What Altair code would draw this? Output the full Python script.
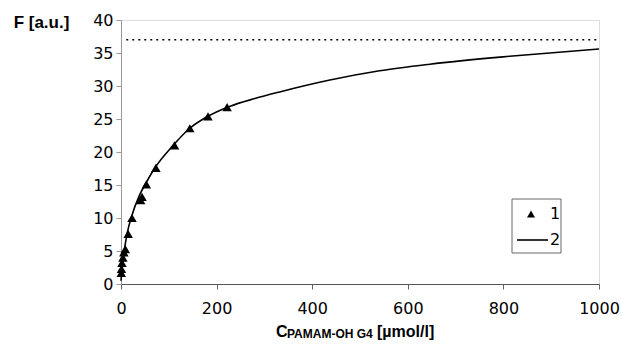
import altair as alt
import pandas as pd

# Measured fluorescence (series 1)
conc_meas = [0.5, 1, 2, 4, 6, 9, 15, 23, 41, 44, 53, 73, 112, 144, 182, 222]
f_meas = [1.7, 2.3, 3.2, 4.0, 4.8, 5.3, 7.6, 10.0, 12.7, 13.2, 15.1, 17.6, 21.0, 23.6, 25.4, 26.8]

# Fitted binding curve (series 2)
conc_fit = [0, 2, 6, 13, 22, 39, 53, 70, 109, 144, 179, 227, 280, 332, 437, 541, 646, 813, 1000]
f_fit = [0.5, 2.1, 4.6, 7.7, 10.2, 13.5, 15.4, 17.5, 21.0, 23.6, 25.3, 26.9, 28.1, 29.1, 30.9, 32.3, 33.3, 34.5, 35.6]

# Saturation level (dotted line)
f_max = 37
conc_max_range = [11, 1000]

legend_labels = ["1", "2"]
x_ticks = [0, 200, 400, 600, 800, 1000]
y_ticks = [0, 5, 10, 15, 20, 25, 30, 35, 40]

W, H = 478, 264
TICK_FONT = "DejaVu Sans"
TITLE_FONT = "Liberation Sans"

meas = pd.DataFrame({"c": conc_meas, "F": f_meas})
fit = pd.DataFrame({"c": conc_fit, "F": f_fit})
sat = pd.DataFrame({"c": conc_max_range, "F": [f_max, f_max]})

x_scale = alt.Scale(domain=[0, 1000], nice=False)
y_scale = alt.Scale(domain=[0, 40], nice=False)

x_axis = alt.Axis(
    values=x_ticks, grid=False, title=None, format="d",
    domainColor="#555", tickColor="#666", tickSize=5,
    labelFont=TICK_FONT, labelFontSize=16, labelColor="black", labelPadding=11,
    labelFlush=False, labelOverlap=False,
)
y_axis = alt.Axis(
    values=y_ticks, grid=False, format="d",
    title="F [a.u.]", titleAngle=0, titleFont=TITLE_FONT, titleFontSize=17,
    titleFontWeight="bold", titleColor="black", titleX=-80, titleY=2,
    titleAlign="center", titleBaseline="middle",
    domainColor="#999", tickColor="#999", tickSize=5,
    labelFont=TICK_FONT, labelFontSize=16, labelColor="black", labelPadding=3,
    labelOverlap=False,
)

X = alt.X("c:Q", scale=x_scale, axis=x_axis)
Y = alt.Y("F:Q", scale=y_scale, axis=y_axis)

curve = alt.Chart(fit).mark_line(color="black", strokeWidth=1.6, interpolate="monotone").encode(x=X, y=Y)

dotted = alt.Chart(sat).mark_line(color="black", strokeWidth=1.6, strokeDash=[2, 4]).encode(x=X, y=Y)

points = alt.Chart(meas).mark_point(
    shape="triangle-up", filled=True, color="black", size=90, opacity=1
).encode(x=X, y=Y)

one = pd.DataFrame({"k": [0]})

# Legend box
legend_box = alt.Chart(one).mark_rect(fill="white", stroke="#666", strokeWidth=1).encode(
    x=alt.value(391), x2=alt.value(440), y=alt.value(179), y2=alt.value(233)
)
legend_tri = alt.Chart(one).mark_point(shape="triangle-up", filled=True, color="black", size=65, opacity=1).encode(
    x=alt.value(410), y=alt.value(194)
)
legend_line = alt.Chart(one).mark_rule(color="black", strokeWidth=1.6).encode(
    x=alt.value(396), x2=alt.value(427), y=alt.value(220)
)
legend_txt = alt.Chart(pd.DataFrame({"t": legend_labels, "y": [194, 220]})).mark_text(
    font=TICK_FONT, fontSize=16, align="center", baseline="middle", color="black"
).encode(x=alt.value(434), y=alt.Y("y:Q", scale=None), text="t:N")

# X axis title with subscript
title_main = alt.Chart(pd.DataFrame({"t": ["C"]})).mark_text(
    font=TITLE_FONT, fontSize=16, fontWeight="bold", align="left", baseline="alphabetic", color="black"
).encode(x=alt.value(155), y=alt.value(317), text="t:N")
title_sub = alt.Chart(pd.DataFrame({"t": ["PAMAM-OH G4"]})).mark_text(
    font=TITLE_FONT, fontSize=12, fontWeight="bold", align="left", baseline="alphabetic", color="black"
).encode(x=alt.value(166), y=alt.value(318), text="t:N")
title_unit = alt.Chart(pd.DataFrame({"t": ["[µmol/l]"]})).mark_text(
    font=TITLE_FONT, fontSize=16, fontWeight="bold", align="left", baseline="alphabetic", color="black"
).encode(x=alt.value(256), y=alt.value(317), text="t:N")

chart = alt.layer(
    dotted, curve, points, legend_box, legend_tri, legend_line, legend_txt,
    title_main, title_sub, title_unit,
).properties(
    width=W, height=H,
    autosize=alt.AutoSizeParams(type="none"),
    padding={"left": 121, "top": 20, "right": 22, "bottom": 70},
).configure_view(stroke=None).configure(background="white")

chart.save("out.html", embed_options={"renderer": "svg", "actions": False})
